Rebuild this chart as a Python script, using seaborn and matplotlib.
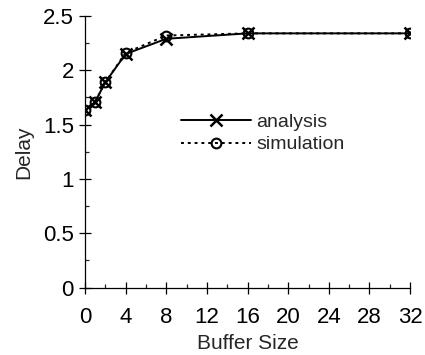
import matplotlib
matplotlib.use("Agg")
import matplotlib.pyplot as plt
import seaborn as sns
import pandas as pd
from matplotlib.ticker import MultipleLocator

buffer_size = [0, 1, 2, 4, 8, 16, 32]
analysis = [1.63, 1.71, 1.89, 2.15, 2.29, 2.34, 2.34]
simulation = [1.63, 1.71, 1.89, 2.16, 2.32, 2.34, 2.34]

sns.set_theme(style="ticks")
plt.rcParams['font.family'] = ['Liberation Sans', 'DejaVu Sans']

fig = plt.figure(figsize=(4.25, 3.55), dpi=100)
ax = fig.add_axes([0.2, 0.19, 0.765, 0.765])

df_a = pd.DataFrame({"x": buffer_size, "y": analysis})
df_s = pd.DataFrame({"x": buffer_size, "y": simulation})
sns.lineplot(data=df_a, x="x", y="y", ax=ax, color="black", linewidth=1.4,
             marker="x", markersize=8, markeredgewidth=1.8, markeredgecolor="black",
             label="analysis")
sns.lineplot(data=df_s, x="x", y="y", ax=ax, color="black", linewidth=1.4,
             linestyle=(0, (1.5, 2)), marker="o", markersize=7, markerfacecolor="none",
             markeredgecolor="black", markeredgewidth=1.5, label="simulation")

ax.set_xlim(0, 32)
ax.set_ylim(0, 2.5)
ax.xaxis.set_major_locator(MultipleLocator(4))
ax.xaxis.set_minor_locator(MultipleLocator(2))
ax.yaxis.set_major_locator(MultipleLocator(0.5))
ax.yaxis.set_minor_locator(MultipleLocator(0.25))
ax.set_yticks([0, 0.5, 1, 1.5, 2, 2.5])
ax.set_yticklabels(["0", "0.5", "1", "1.5", "2", "2.5"])
ax.tick_params(which="major", direction="inout", length=8, width=0.9, labelsize=16, colors="black")
ax.tick_params(which="minor", direction="in", length=3, width=0.9)
ax.tick_params(axis="x", pad=10)
ax.tick_params(axis="y", pad=4)
for s in ["top", "right"]:
    ax.spines[s].set_visible(False)
for s in ["left", "bottom"]:
    ax.spines[s].set_linewidth(0.9)
    ax.spines[s].set_color("black")
ax.set_xlabel("Buffer Size", fontsize=15, labelpad=4)
ax.set_ylabel("Delay", fontsize=15, labelpad=7)

ax.legend(loc="upper left", bbox_to_anchor=(0.27, 0.67), frameon=False, fontsize=14,
          handlelength=3.6, handletextpad=0.3, labelspacing=0.25, borderaxespad=0)

fig.savefig("out.png", dpi=100)
